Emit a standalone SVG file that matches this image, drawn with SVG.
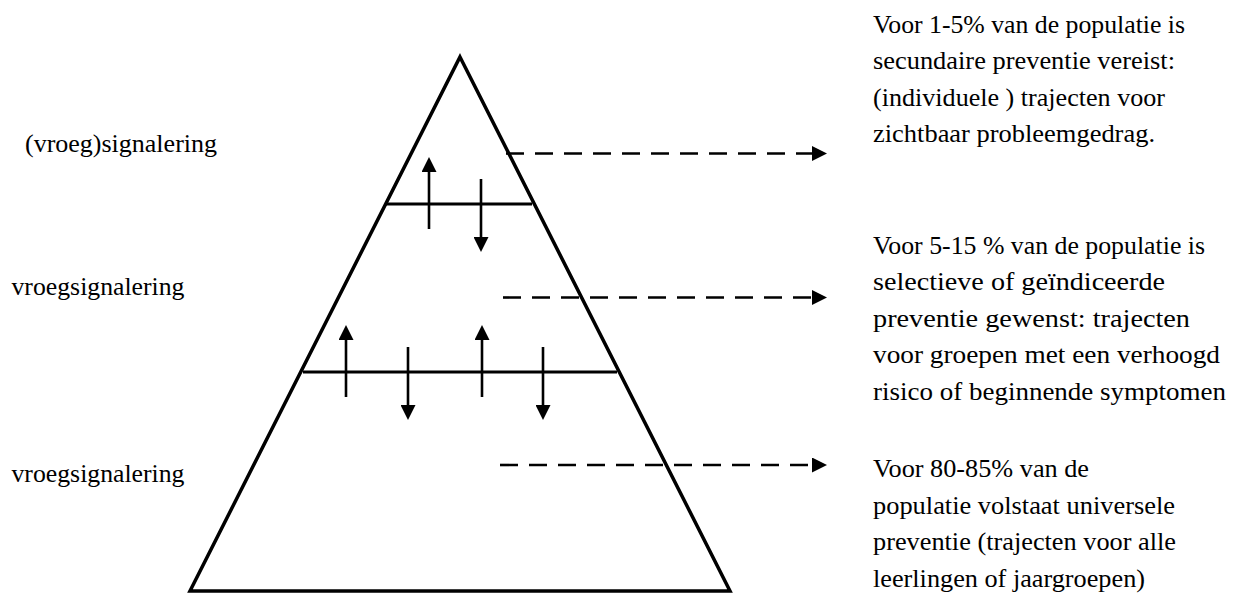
<svg xmlns="http://www.w3.org/2000/svg" width="1234" height="595" viewBox="0 0 1234 595">
<style>
  .t { font-family: "Liberation Serif", "DejaVu Serif", serif; font-size: 25px; fill: #000; }
  .edge { fill: none; stroke: #000; stroke-width: 3.5; stroke-linejoin: miter; }
  .band { stroke: #000; stroke-width: 3; fill: none; }
  .solid { stroke: #000; stroke-width: 2.6; fill: none; marker-end: url(#head); }
  .dash { stroke: #000; stroke-width: 2.6; fill: none; stroke-dasharray: 18 11; marker-end: url(#head); }
</style>
<defs>
  <marker id="head" markerUnits="userSpaceOnUse" markerWidth="15" markerHeight="15" refX="0" refY="7.5" orient="auto" viewBox="0 0 15 15">
    <path d="M0,0 L15,7.5 L0,15 z" fill="#000"/>
  </marker>
</defs>
<rect width="1234" height="595" fill="#fff"/>

<g id="pyramid">
  <polygon class="edge" points="460,57 730,591 190,591"/>
  <line class="band" x1="386" y1="204" x2="532" y2="204"/>
  <line class="band" x1="303" y1="372" x2="617" y2="372"/>
</g>

<g id="connectors">
  <line class="solid" x1="429" y1="229" x2="429" y2="172"/>
  <line class="solid" x1="481" y1="179" x2="481" y2="237"/>
  <line class="solid" x1="346" y1="397" x2="346" y2="340"/>
  <line class="solid" x1="408" y1="347" x2="408" y2="405"/>
  <line class="solid" x1="482" y1="397" x2="482" y2="340"/>
  <line class="solid" x1="543" y1="347" x2="543" y2="405"/>
  <line class="dash" x1="506" y1="153.5" x2="812" y2="153.5"/>
  <line class="dash" x1="503" y1="297.5" x2="812" y2="297.5"/>
  <line class="dash" x1="500" y1="465" x2="812" y2="465"/>
</g>

<g id="label-left-1">
  <text class="t" x="25" y="152" textLength="192" lengthAdjust="spacingAndGlyphs">(vroeg)signalering</text>
</g>
<g id="label-left-2">
  <text class="t" x="11.5" y="295" textLength="173" lengthAdjust="spacingAndGlyphs">vroegsignalering</text>
</g>
<g id="label-left-3">
  <text class="t" x="11.5" y="482" textLength="173" lengthAdjust="spacingAndGlyphs">vroegsignalering</text>
</g>

<g id="text-right-1">
  <text class="t" x="873" y="32.5" textLength="312" lengthAdjust="spacingAndGlyphs">Voor 1-5% van de populatie is</text>
  <text class="t" x="873" y="69" textLength="302" lengthAdjust="spacingAndGlyphs">secundaire preventie vereist:</text>
  <text class="t" x="873" y="105.5" textLength="292" lengthAdjust="spacingAndGlyphs">(individuele ) trajecten voor</text>
  <text class="t" x="873" y="142" textLength="282" lengthAdjust="spacingAndGlyphs">zichtbaar probleemgedrag.</text>
</g>
<g id="text-right-2">
  <text class="t" x="873" y="253.5" textLength="332" lengthAdjust="spacingAndGlyphs">Voor 5-15 % van de populatie is</text>
  <text class="t" x="873" y="290" textLength="292" lengthAdjust="spacingAndGlyphs">selectieve of geïndiceerde</text>
  <text class="t" x="873" y="326.5" textLength="317" lengthAdjust="spacingAndGlyphs">preventie gewenst: trajecten</text>
  <text class="t" x="873" y="363" textLength="347" lengthAdjust="spacingAndGlyphs">voor groepen met een verhoogd</text>
  <text class="t" x="873" y="400" textLength="353" lengthAdjust="spacingAndGlyphs">risico of beginnende symptomen</text>
</g>
<g id="text-right-3">
  <text class="t" x="873" y="477" textLength="216" lengthAdjust="spacingAndGlyphs">Voor 80-85% van de</text>
  <text class="t" x="873" y="513.5" textLength="302" lengthAdjust="spacingAndGlyphs">populatie volstaat universele</text>
  <text class="t" x="873" y="550" textLength="303" lengthAdjust="spacingAndGlyphs">preventie (trajecten voor alle</text>
  <text class="t" x="873" y="586.5" textLength="272" lengthAdjust="spacingAndGlyphs">leerlingen of jaargroepen)</text>
</g>
</svg>
